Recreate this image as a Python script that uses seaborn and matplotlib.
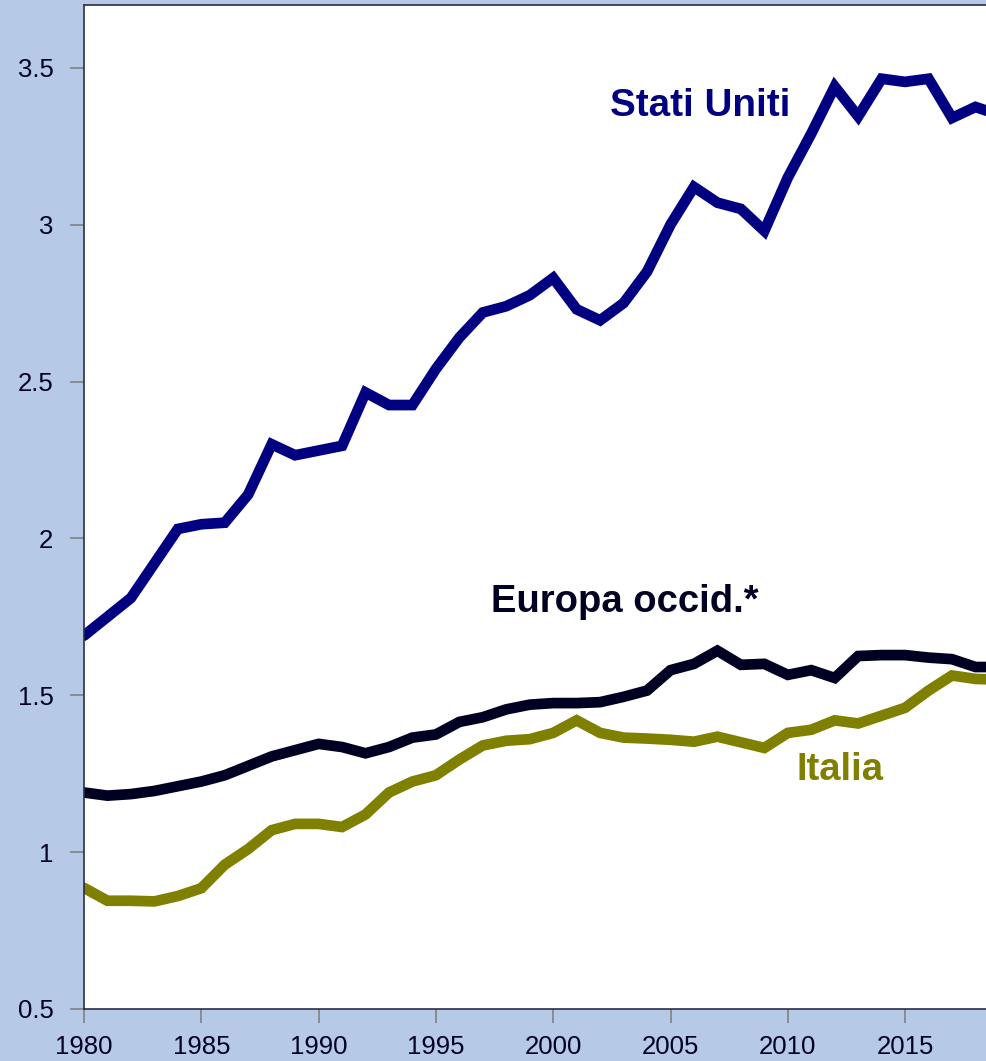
import pandas as pd
import seaborn as sns
import matplotlib.pyplot as plt

years = list(range(1980, 2020))

stati_uniti = [1.69, 1.75, 1.81, 1.92, 2.03, 2.045, 2.05, 2.14, 2.30, 2.265,
               2.28, 2.295, 2.465, 2.425, 2.425, 2.54, 2.64, 2.72, 2.74, 2.775,
               2.83, 2.73, 2.695, 2.75, 2.85, 3.00, 3.12, 3.07, 3.05, 2.98,
               3.15, 3.29, 3.44, 3.345, 3.465, 3.455, 3.465, 3.34, 3.375, 3.35]

europa = [1.19, 1.18, 1.185, 1.195, 1.21, 1.225, 1.245, 1.275, 1.305, 1.325,
          1.345, 1.335, 1.315, 1.335, 1.365, 1.375, 1.415, 1.43, 1.455, 1.47,
          1.475, 1.475, 1.478, 1.495, 1.515, 1.58, 1.60, 1.642, 1.597, 1.60,
          1.565, 1.58, 1.555, 1.625, 1.628, 1.628, 1.62, 1.615, 1.59, 1.59]

italia = [0.886, 0.845, 0.845, 0.843, 0.86, 0.885, 0.96, 1.01, 1.07, 1.09,
          1.09, 1.08, 1.12, 1.19, 1.225, 1.245, 1.295, 1.34, 1.355, 1.36,
          1.38, 1.42, 1.38, 1.365, 1.362, 1.358, 1.352, 1.368, 1.35, 1.332,
          1.38, 1.39, 1.42, 1.41, 1.435, 1.46, 1.515, 1.563, 1.552, 1.55]

series_names = ["Stati Uniti", "Europa occid.*", "Italia"]
colors = ["#000080", "#000022", "#808000"]

df = pd.DataFrame({
    "anno": years * 3,
    "valore": stati_uniti + europa + italia,
    "serie": ["Stati Uniti"] * 40 + ["Europa occid.*"] * 40 + ["Italia"] * 40,
})

sns.set_style("white")
plt.rcParams['font.family'] = ['Liberation Sans', 'DejaVu Sans']

fig = plt.figure(figsize=(9.87, 10.61), dpi=100)
fig.patch.set_facecolor("#B6C9E7")
ax = fig.add_axes([84 / 987, 52 / 1061, 938.4 / 987, 1004 / 1061])
ax.set_facecolor("white")

sns.lineplot(data=df, x="anno", y="valore", hue="serie", hue_order=series_names,
             palette=colors, linewidth=7.7, legend=False, ax=ax,
             solid_joinstyle="miter")

ax.set_xlim(1980, 2020)
ax.set_ylim(0.5, 3.70)
ax.set_xticks([1980, 1985, 1990, 1995, 2000, 2005, 2010, 2015])
ax.set_yticks([0.5, 1, 1.5, 2, 2.5, 3, 3.5])
ax.set_yticklabels(["0.5", "1", "1.5", "2", "2.5", "3", "3.5"])
ax.set_xlabel("")
ax.set_ylabel("")

for s in ax.spines.values():
    s.set_color("#2A2E48")
    s.set_linewidth(1.2)

ax.tick_params(axis="both", direction="out", length=10, width=1.2, color="#808080",
               labelsize=18.5, labelcolor="#000022", left=True, bottom=True)
ax.tick_params(axis="x", pad=9)
ax.tick_params(axis="y", pad=12)

ax.text(2006.26, 3.378, "Stati Uniti", color="#000080", fontsize=27.8, fontweight="bold",
        ha="center", va="center")
ax.text(2003.06, 1.797, "Europa occid.*", color="#000022", fontsize=27.5, fontweight="bold",
        ha="center", va="center")
ax.text(2012.22, 1.262, "Italia", color="#808000", fontsize=27.5, fontweight="bold",
        ha="center", va="center")

fig.savefig("out.png", dpi=100)
